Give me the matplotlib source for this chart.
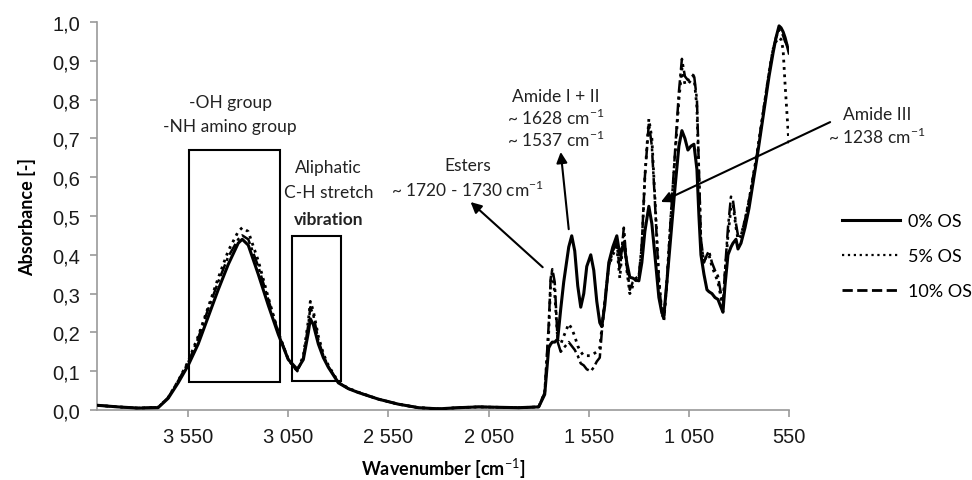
import numpy as np
import matplotlib
matplotlib.use("Agg")
import matplotlib.pyplot as plt
from matplotlib.lines import Line2D
from matplotlib.patches import Rectangle

plt.rcParams['mathtext.fontset'] = 'custom'
plt.rcParams['mathtext.rm'] = 'Lato'
plt.rcParams['mathtext.bf'] = 'Lato:bold'

# wavenumber grid [cm-1]
wn = [4000, 3900, 3800, 3700, 3650, 3600, 3550, 3500, 3450, 3400, 3350, 3300,
      3280, 3250, 3200, 3150, 3100, 3050, 3005, 2975, 2950, 2940, 2925, 2900,
      2875, 2850, 2800, 2750, 2700, 2600, 2500, 2400, 2300, 2200, 2100, 2000,
      1900, 1800, 1770, 1750, 1740, 1732, 1720, 1705, 1690, 1675, 1650, 1635,
      1620, 1605, 1590, 1575, 1560, 1540, 1525, 1510, 1495, 1485, 1470, 1450,
      1430, 1410, 1395, 1375, 1360, 1345, 1330, 1315, 1300, 1285, 1270, 1250,
      1235, 1220, 1200, 1185, 1175, 1160, 1140, 1120, 1100, 1085, 1070, 1055,
      1040, 1025, 1010, 1000, 990, 975, 960, 950, 935, 920, 905, 890, 880,
      870, 855, 840, 830, 815, 805, 790, 770, 750, 730, 710, 690, 670, 650,
      630, 615, 600, 590, 580, 570, 560, 550]

os0 = [0.012, 0.008, 0.005, 0.006, 0.03, 0.07, 0.115, 0.17, 0.24, 0.31, 0.375, 0.43,
       0.44, 0.425, 0.35, 0.27, 0.195, 0.13, 0.105, 0.13, 0.20, 0.235, 0.22, 0.17,
       0.135, 0.11, 0.07, 0.055, 0.045, 0.028, 0.015, 0.006, 0.003, 0.006, 0.008, 0.007,
       0.006, 0.008, 0.04, 0.16, 0.17, 0.175, 0.175, 0.183, 0.26, 0.33, 0.42, 0.449,
       0.41, 0.32, 0.265, 0.30, 0.37, 0.40, 0.36, 0.28, 0.225, 0.215, 0.27, 0.38,
       0.42, 0.449, 0.40, 0.43, 0.38, 0.342, 0.34, 0.335, 0.333, 0.38, 0.46, 0.525,
       0.48, 0.40, 0.29, 0.25, 0.243, 0.33, 0.45, 0.57, 0.68, 0.72, 0.70, 0.67,
       0.68, 0.685, 0.62, 0.50, 0.40, 0.35, 0.31, 0.305, 0.30, 0.29, 0.285, 0.265, 0.252,
       0.32, 0.40, 0.42, 0.43, 0.44, 0.415, 0.43, 0.47, 0.52, 0.585, 0.65, 0.72, 0.79, 0.86,
       0.92, 0.96, 0.99, 0.985, 0.975, 0.96, 0.94, 0.92]

os5 = [0.012, 0.008, 0.005, 0.007, 0.032, 0.075, 0.125, 0.19, 0.265, 0.34, 0.41, 0.46,
       0.47, 0.46, 0.385, 0.29, 0.20, 0.13, 0.10, 0.14, 0.23, 0.28, 0.255, 0.19,
       0.145, 0.115, 0.072, 0.056, 0.046, 0.028, 0.015, 0.006, 0.003, 0.006, 0.008, 0.007,
       0.006, 0.008, 0.045, 0.20, 0.33, 0.36, 0.30, 0.18, 0.17, 0.19, 0.222, 0.21,
       0.19, 0.165, 0.15, 0.14, 0.14, 0.14, 0.145, 0.15, 0.16, 0.21, 0.28, 0.37,
       0.40, 0.42, 0.34, 0.46, 0.36, 0.30, 0.32, 0.335, 0.34, 0.42, 0.60, 0.75,
       0.70, 0.55, 0.34, 0.25, 0.23, 0.33, 0.50, 0.65, 0.80, 0.88, 0.84, 0.84,
       0.85, 0.86, 0.78, 0.60, 0.43, 0.38, 0.40, 0.40, 0.37, 0.35, 0.33, 0.29, 0.26,
       0.35, 0.45, 0.52, 0.53, 0.47, 0.44, 0.45, 0.49, 0.54, 0.60, 0.66, 0.73, 0.80, 0.87,
       0.93, 0.95, 0.96, 0.955, 0.93, 0.84, 0.76, 0.68]

os10 = [0.012, 0.008, 0.005, 0.007, 0.032, 0.075, 0.122, 0.185, 0.26, 0.33, 0.395, 0.44,
        0.45, 0.44, 0.37, 0.285, 0.20, 0.13, 0.10, 0.135, 0.22, 0.265, 0.245, 0.18,
        0.14, 0.112, 0.071, 0.055, 0.045, 0.028, 0.015, 0.006, 0.003, 0.006, 0.008, 0.007,
        0.006, 0.008, 0.045, 0.22, 0.34, 0.363, 0.33, 0.175, 0.15, 0.16, 0.175, 0.165,
        0.155, 0.14, 0.12, 0.115, 0.105, 0.10, 0.11, 0.125, 0.135, 0.20, 0.28, 0.37,
        0.41, 0.43, 0.36, 0.47, 0.37, 0.31, 0.33, 0.34, 0.345, 0.43, 0.60, 0.74,
        0.68, 0.54, 0.33, 0.25, 0.235, 0.33, 0.50, 0.66, 0.82, 0.905, 0.86, 0.85,
        0.855, 0.866, 0.80, 0.62, 0.44, 0.38, 0.40, 0.41, 0.38, 0.36, 0.345, 0.30, 0.27,
        0.36, 0.47, 0.55, 0.54, 0.48, 0.45, 0.45, 0.49, 0.54, 0.60, 0.66, 0.73, 0.80, 0.87,
        0.93, 0.96, 0.98, 0.975, 0.965, 0.95, 0.94, 0.93]

labels = ['0% OS', '5% OS', '10% OS']
xticks = [3550, 3050, 2550, 2050, 1550, 1050, 550]
xticklabels = ['3 550', '3 050', '2 550', '2 050', '1 550', '1 050', '550']
yticks = np.arange(0, 1.01, 0.1)

fig = plt.figure(figsize=(9.72, 4.81), dpi=100)
ax = fig.add_axes([0.0998, 0.1455, 0.712, 0.8067])

ax.plot(wn, os10, color='black', lw=1.8, dashes=(5, 1.5, 1.2, 1.5), zorder=2)
ax.plot(wn, os5, color='black', lw=2.0, ls=':', zorder=3)
ax.plot(wn, os0, color='black', lw=2.2, zorder=4)

ax.set_xlim(4005, 550)
ax.set_ylim(0, 1.0)
ax.set_xticks(xticks)
ax.set_xticklabels(xticklabels)
ax.set_yticks(yticks)
ax.yaxis.set_major_formatter(plt.FuncFormatter(lambda v, p: ('%.1f' % v).replace('.', ',')))

for s in ['top', 'right']:
    ax.spines[s].set_visible(False)
for s in ['left', 'bottom']:
    ax.spines[s].set_color('#9a9a9a')
    ax.spines[s].set_linewidth(1.2)
ax.tick_params(colors='#9a9a9a', length=5, width=1.2, labelcolor='#1a1a1a',
               labelsize=14.5, pad=7)
for t in ax.get_xticklabels() + ax.get_yticklabels():
    t.set_family('Liberation Sans')

ax.set_xlabel('Wavenumber [cm$^{-1}$]', family='Lato', weight='bold', fontsize=13, labelpad=7)
ax.set_ylabel('Absorbance [-]', family='Lato', weight='bold', fontsize=13, labelpad=12)

# boxes around bands
ax.add_patch(Rectangle((3545, 0.072), 3090 - 3545, 0.67 - 0.072, fill=False, lw=1.5, ec='black'))
ax.add_patch(Rectangle((3032, 0.075), 2787 - 3032, 0.449 - 0.075, fill=False, lw=1.5, ec='black'))

tk = dict(family='Lato', fontsize=12.5, ha='center', va='center', color='#222222')
ax.text(3340, 0.794, '-OH group', **tk)
ax.text(3340, 0.732, '-NH amino group', **tk)
ax.text(2850, 0.626, 'Aliphatic', **tk)
ax.text(2850, 0.562, 'C-H stretch', **tk)
ax.text(2850, 0.492, 'vibration', weight='bold', **tk)
ax.text(2155, 0.631, 'Esters', **tk)
ax.text(2155, 0.570, '~ 1720 - 1730 cm$^{-1}$', **tk)
ax.text(1715, 0.809, 'Amide I + II', **tk)
ax.text(1715, 0.755, '~ 1628 cm$^{-1}$', **tk)
ax.text(1715, 0.698, '~ 1537 cm$^{-1}$', **tk)
ax.text(110, 0.763, 'Amide III', clip_on=False, **tk)
ax.text(115, 0.706, '~ 1238 cm$^{-1}$', clip_on=False, **tk)

ap = dict(arrowstyle='-|>', color='black', lw=1.5, mutation_scale=16, shrinkA=0, shrinkB=0)
ax.annotate('', xy=(2140, 0.536), xytext=(1780, 0.368), arrowprops=ap, annotation_clip=False)
ax.annotate('', xy=(1690, 0.665), xytext=(1650, 0.466), arrowprops=ap, annotation_clip=False)
ax.annotate('', xy=(1190, 0.536), xytext=(345, 0.742), arrowprops=ap, annotation_clip=False)

handles = [Line2D([], [], color='black', lw=2.2),
           Line2D([], [], color='black', lw=1.6, ls=':'),
           Line2D([], [], color='black', lw=2.0, ls='--')]
ax.legend(handles, labels, loc='center left', bbox_to_anchor=(1.077, 0.397),
          frameon=False, borderpad=0, borderaxespad=0, handlelength=3.2,
          handletextpad=0.45, labelspacing=1.05, prop={'family': 'Lato', 'size': 13})

fig.savefig('out.png', dpi=100)
